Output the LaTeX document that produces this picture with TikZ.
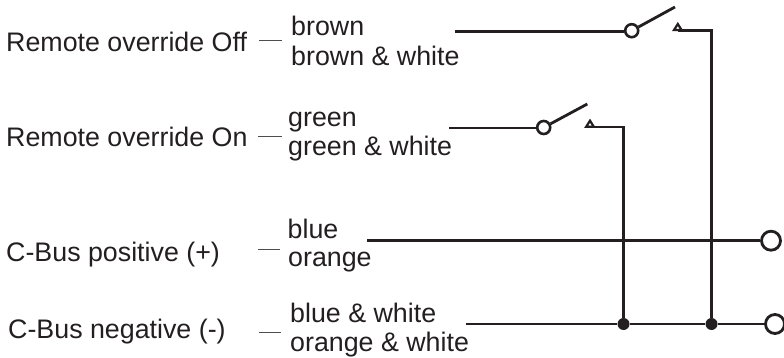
\documentclass[tikz,border=0pt]{standalone}
\usepackage{fontspec}
\setmainfont{Liberation Sans}
\definecolor{ink}{HTML}{231F20}
\tikzset{
 lbl/.style={inner sep=0pt,anchor=base west,font=\fontsize{26.8pt}{30pt}\selectfont,text=ink},
 wire/.style={line width=2.8pt,ink},
 dashwire/.style={line width=1pt,ink!80},
 term/.style={circle,draw=ink,line width=2.8pt,fill=white,minimum size=19pt,inner sep=0pt},
 sw/.style={circle,draw=ink,line width=2.6pt,fill=white,minimum size=13pt,inner sep=0pt},
 jn/.style={circle,fill=ink,minimum size=12pt,inner sep=0pt},
 cont/.style={draw=ink,line width=2.2pt,fill=white,line join=miter}
}
\begin{document}
\begin{tikzpicture}[x=1pt,y=-1pt]
\useasboundingbox (0,0) rectangle (784,358);
\node[lbl] (a1) at (6,51.5) {Remote override Off};
\node[lbl] (a2) at (6,146.1) {Remote override On};
\node[lbl] (a3) at (6,261.8) {C-Bus positive (+)};
\node[lbl] (a4) at (8,338.1) {C-Bus negative (-)};
\node[lbl] (b1) at (291,35.6) {brown};
\node[lbl] (b2) at (291,65.1) {brown \& white};
\node[lbl] (c1) at (288,126.8) {green};
\node[lbl] (c2) at (288,155.8) {green \& white};
\node[lbl] (d1) at (287.5,238.1) {blue};
\node[lbl] (d2) at (288,266.5) {orange};
\node[lbl] (e1) at (290,322.5) {blue \& white};
\node[lbl] (e2) at (290,351.5) {orange \& white};
\coordinate (q1a) at (259,40.3); \coordinate (q1b) at (282,40.3);
\coordinate (q2a) at (258,136.3); \coordinate (q2b) at (282,136.3);
\coordinate (q3a) at (258,249); \coordinate (q3b) at (280,249);
\coordinate (q4a) at (259,332.3); \coordinate (q4b) at (281,332.3);
\draw[dashwire] (q1a)--(q1b);
\draw[dashwire] (q2a)--(q2b);
\draw[dashwire] (q3a)--(q3b);
\draw[dashwire] (q4a)--(q4b);
% top switch
\coordinate (w1) at (455,31.5);
\node[sw] (s1) at (631.7,30.7) {};
\coordinate (arm1) at (675,7);
\draw[wire] (w1)--(w1-|s1.west);
\draw[wire] (s1)--(arm1);
\coordinate (r1) at (711.5,30.3);
\node[jn] (j1) at (711.5,324) {};
\draw[wire] (678,30.3)--(r1)--(j1);
\draw[cont] (674,30)--(677.8,24)--(681.6,30)--cycle;
% second switch
\coordinate (w2) at (449,128);
\node[sw] (s2) at (543.7,127.5) {};
\coordinate (arm2) at (587.3,104);
\draw[wire] (w2)--(w2-|s2.west);
\draw[wire] (s2)--(arm2);
\coordinate (r2) at (623.5,127);
\node[jn] (j2) at (623.5,324) {};
\draw[wire] (590,127)--(r2)--(j2);
\draw[cont] (586.2,126.7)--(590,120.7)--(593.8,126.7)--cycle;
% bus
\coordinate (w3) at (367,240.7);
\node[term] (t3) at (771,240.7) {};
\draw[wire] (w3)--(t3);
\coordinate (w4) at (465.7,324);
\node[term] (t4) at (775,324) {};
\draw[wire] (w4)--(j2)--(j1)--(t4);
\end{tikzpicture}
\end{document}
